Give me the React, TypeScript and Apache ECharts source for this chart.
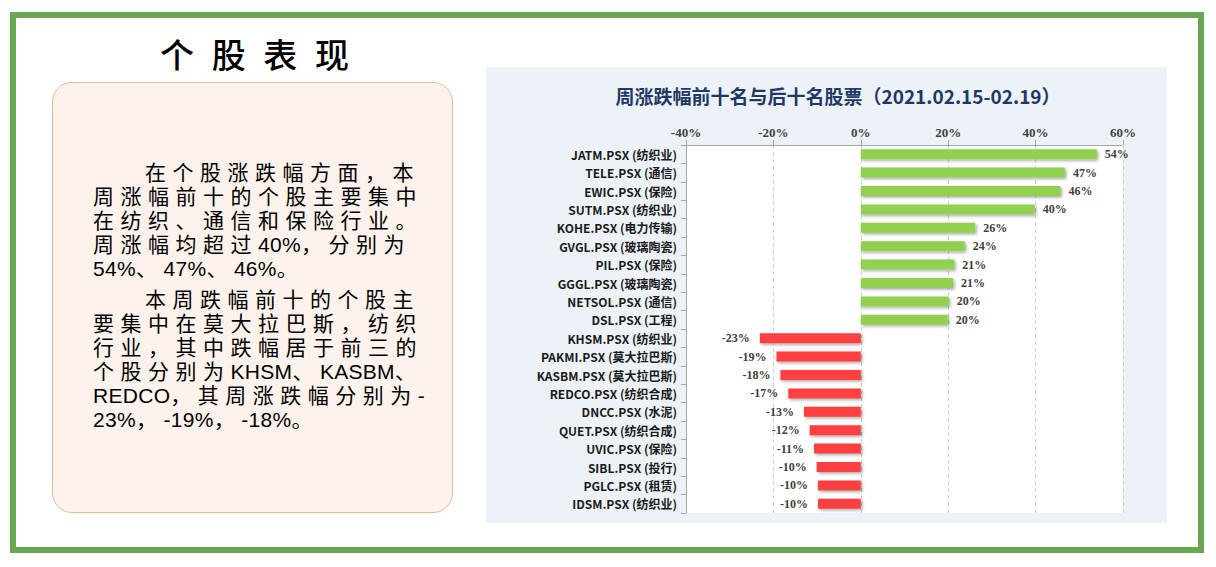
import React, { useEffect, useRef } from "react";
import * as echarts from "echarts";

const chartTitle = "周涨跌幅前十名与后十名股票（2021.02.15-02.19）";
const categories = [
  "JATM.PSX (纺织业)",
  "TELE.PSX (通信)",
  "EWIC.PSX (保险)",
  "SUTM.PSX (纺织业)",
  "KOHE.PSX (电力传输)",
  "GVGL.PSX (玻璃陶瓷)",
  "PIL.PSX (保险)",
  "GGGL.PSX (玻璃陶瓷)",
  "NETSOL.PSX (通信)",
  "DSL.PSX (工程)",
  "KHSM.PSX (纺织业)",
  "PAKMI.PSX (莫大拉巴斯)",
  "KASBM.PSX (莫大拉巴斯)",
  "REDCO.PSX (纺织合成)",
  "DNCC.PSX (水泥)",
  "QUET.PSX (纺织合成)",
  "UVIC.PSX (保险)",
  "SIBL.PSX (投行)",
  "PGLC.PSX (租赁)",
  "IDSM.PSX (纺织业)",
];
const weeklyChange = [
  54.0, 46.7, 45.7, 39.8, 26.2, 23.8, 21.4, 21.1, 20.1, 19.9,
  -23.1, -19.3, -18.4, -16.6, -13.0, -11.7, -10.7, -10.1, -9.8, -9.8,
];
const xTicks = { min: -40, max: 60, interval: 20 };

const pageTitle = "个 股 表 现";
const paragraph1 = [
  "在个股涨跌幅方面，本",
  "周涨幅前十的个股主要集中",
  "在纺织、通信和保险行业。",
  "周涨幅均超过40%，分别为",
  "54%、47%、46%。",
];
const paragraph2 = [
  "本周跌幅前十的个股主",
  "要集中在莫大拉巴斯，纺织",
  "行业，其中跌幅居于前三的",
  "个股分别为KHSM、KASBM、",
  "REDCO，其周涨跌幅分别为-",
  "23%，-19%，-18%。",
];

function renderLine(line: string) {
  const parts = line.split(/([A-Za-z0-9%.\-]+)/);
  return parts.map((p, i) =>
    /^[A-Za-z0-9%.\-]+$/.test(p) ? (
      <span key={i} style={{ letterSpacing: 0.3 }}>
        {p}
      </span>
    ) : (
      <span key={i}>{p}</span>
    )
  );
}

function Paragraph({ lines, top }: { lines: string[]; top: number }) {
  return (
    <div style={{ position: "absolute", left: 93, top, width: 340 }}>
      {lines.map((l, i) => (
        <div
          key={i}
          style={{
            height: 24,
            lineHeight: "24px",
            whiteSpace: "nowrap",
            paddingLeft: i === 0 ? 52 : 0,
          }}
        >
          {renderLine(l)}
        </div>
      ))}
    </div>
  );
}

export default function App() {
  const ref = useRef<HTMLDivElement>(null);

  useEffect(() => {
    if (!ref.current) return;
    const chart = echarts.init(ref.current, undefined, { renderer: "svg" });
    const green = "#92D050";
    const red = "#FF3F3F";
    chart.setOption({
      animation: false,
      backgroundColor: "#EDF2F8",
      title: {
        text: chartTitle,
        left: 347,
        top: 14,
        textAlign: "center",
        textStyle: {
          fontFamily: "'Noto Sans CJK SC', sans-serif",
          fontSize: 19,
          fontWeight: "bold",
          color: "#1F3864",
        },
      },
      grid: {
        left: 200,
        right: 44,
        top: 78,
        bottom: 10,
        show: true,
        backgroundColor: "#FFFFFF",
        borderWidth: 0,
      },
      xAxis: {
        type: "value",
        position: "top",
        min: xTicks.min,
        max: xTicks.max,
        interval: xTicks.interval,
        axisLine: { show: true, lineStyle: { color: "#A6A6A6", width: 1 } },
        axisTick: { show: true, length: 5, lineStyle: { color: "#A6A6A6" } },
        axisLabel: {
          formatter: "{value}%",
          fontFamily: "'Liberation Serif', serif",
          fontWeight: "bold",
          fontSize: 13,
          color: "#404040",
          margin: 6,
        },
        splitLine: { show: true, lineStyle: { color: "#D0D0D0", type: [4, 3] } },
      },
      yAxis: [
        {
          type: "category",
          inverse: true,
          data: categories,
          axisLine: { show: false },
          axisTick: { show: false },
          axisLabel: {
            fontFamily: "'Noto Sans CJK SC', sans-serif",
            fontWeight: "bold",
            fontSize: 12,
            color: "#1A1A1A",
            margin: 9,
          },
        },
        {
          type: "category",
          inverse: true,
          position: "left",
          data: categories,
          axisLine: { show: true, onZero: true, lineStyle: { color: "#A6A6A6" } },
          axisTick: { show: true, length: 5, lineStyle: { color: "#A6A6A6" } },
          axisLabel: { show: false },
          splitLine: { show: false },
        },
      ],
      series: [
        {
          type: "bar",
          yAxisIndex: 0,
          barWidth: 10,
          data: weeklyChange.map((v) => ({
            value: v,
            itemStyle: {
              color: v >= 0 ? green : red,
              shadowColor: "rgba(0,0,0,0.35)",
              shadowBlur: 3,
              shadowOffsetX: 1.5,
              shadowOffsetY: 1.5,
            },
            label: {
              position: v >= 0 ? "right" : "left",
              distance: v >= 0 ? 8 : 10,
            },
          })),
          label: {
            show: true,
            formatter: (p: any) => `${Math.round(p.value)}%`,
            fontFamily: "'Liberation Serif', serif",
            fontWeight: "bold",
            fontSize: 12,
            color: "#404040",
          },
        },
      ],
    });
    return () => chart.dispose();
  }, []);

  return (
    <div
      style={{
        position: "absolute",
        left: 0,
        top: 0,
        width: 1216,
        height: 567,
        background: "#FFFFFF",
        overflow: "hidden",
        fontFamily: "'Noto Sans CJK SC', sans-serif",
      }}
    >
      <div
        style={{
          position: "absolute",
          left: 10,
          top: 12,
          width: 1194,
          height: 541,
          border: "6px solid #6AA84F",
          boxSizing: "border-box",
        }}
      />
      <div
        style={{
          position: "absolute",
          left: 57,
          top: 33,
          width: 400,
          textAlign: "center",
          fontSize: 34,
          lineHeight: "42px",
          letterSpacing: 5,
          color: "#000",
          fontWeight: 500,
        }}
      >
        {pageTitle}
      </div>
      <div
        style={{
          position: "absolute",
          left: 52,
          top: 82,
          width: 401,
          height: 431,
          border: "1.5px solid #EBB89C",
          borderRadius: 20,
          background: "#FDF3EC",
          boxSizing: "border-box",
        }}
      />
      <div
        style={{
          fontFamily: "'Liberation Sans', 'Noto Sans CJK SC', sans-serif",
          fontSize: 21,
          letterSpacing: 6.5,
          color: "#000",
        }}
      >
        <Paragraph lines={paragraph1} top={161} />
        <Paragraph lines={paragraph2} top={288} />
      </div>
      <div
        ref={ref}
        style={{ position: "absolute", left: 486, top: 67, width: 681, height: 456 }}
      />
    </div>
  );
}
